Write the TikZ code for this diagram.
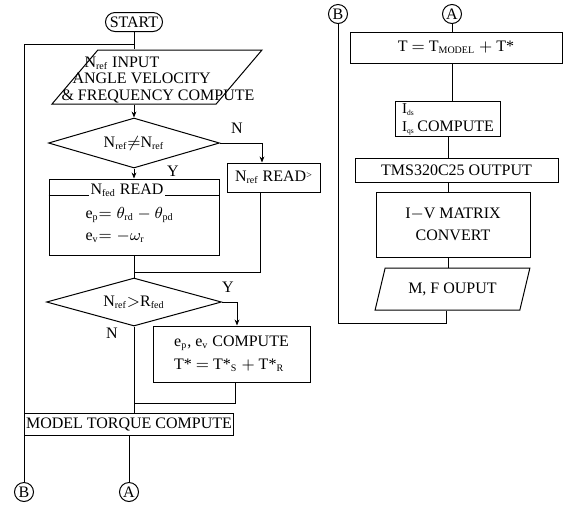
\documentclass[tikz,border=0pt]{standalone}
\usepackage{amsmath,amssymb}
\usepackage{fontspec}
\setmainfont{Liberation Serif}
\usetikzlibrary{arrows.meta,positioning,shapes.geometric,shapes.misc}
\newcommand{\sbs}[1]{$_{\scriptscriptstyle\textrm{#1}}$}

\begin{document}
\begin{tikzpicture}[x=0.5pt,y=-0.5pt,line width=0.5pt,font=\fontsize{8}{8.3}\selectfont,
  box/.style={draw,rectangle,inner sep=1pt},
  decision/.style={draw,diamond,aspect=3,inner sep=0pt},
  io/.style={draw,trapezium,trapezium stretches=true,inner sep=1pt},
  term/.style={draw,rounded rectangle,inner sep=1pt},
  conn/.style={draw,circle,inner sep=0pt,minimum size=9.5pt},
  flow/.style={-{Stealth[length=3pt,width=2.4pt]}}]
\useasboundingbox (0,0) rectangle (568,510);

% Left column: start and input
\node[term,minimum width=30.5pt,minimum height=9.5pt] (start) at (134,22) {START};
\node[io,trapezium left angle=64,trapezium right angle=116,minimum width=105pt,minimum height=27pt] (input) at (157,77) {\phantom{M}};
\node[align=left,inner sep=0pt] (inputtxt) at (158,80) {\hspace*{11.5pt}N\sbs{ref} INPUT\\ \hspace*{5.5pt}ANGLE VELOCITY\\ \& FREQUENCY COMPUTE};
\coordinate (loopjoin) at (134,44);

% First decision and its branches
\node[decision,minimum width=85.5pt,minimum height=25pt] (dec1) at (134,143) {N\sbs{ref}$\neq$N\sbs{ref}};
\node[box,minimum width=85pt,minimum height=38pt] (fedread) at (134,217) {};
\draw (fedread.north west) ++(0,17) -- ++(170,0);
\node[fill=white,inner sep=1pt] (fedhead) at (127,190) {N\sbs{fed} READ};
\node[anchor=west,inner sep=0pt] (eqp) at (85,215) {e\sbs{p}$=\theta_{\scriptscriptstyle\textrm{rd}}-\theta_{\scriptscriptstyle\textrm{pd}}$};
\node[anchor=west,inner sep=0pt] (eqv) at (85,237) {e\sbs{v}$=-\omega_{\scriptscriptstyle\textrm{r}}$};
\node[box,minimum width=46.5pt,minimum height=14.5pt] (refread) at (273.5,177.5) {N\sbs{ref} READ\raisebox{1.5pt}{\tiny >}};
\coordinate (join1) at (134,272);

% Second decision and its branches
\node[decision,minimum width=87.5pt,minimum height=24pt] (dec2) at (134,302) {N\sbs{ref}$>$R\sbs{fed}};
\node[box,minimum width=78.5pt,minimum height=28pt,align=left] (compbox) at (231.5,354) {e\sbs{p}, e\sbs{v} COMPUTE\\[3pt] T* $=$ T*\sbs{S} $+$ T*\sbs{R}};
\coordinate (join2) at (134,403);
\node[box,minimum width=99pt,minimum height=11pt] (model) at (129,424) {MODEL TORQUE COMPUTE};
\node[conn] (connA1) at (129,492) {A};
\node[conn] (connB1) at (24,492) {B};

% Branch labels
\node (lbn1) at (237,128) {N};
\node (lby1) at (173,171) {Y};
\node (lby2) at (228,287) {Y};
\node (lbn2) at (112,333) {N};

% Left column connectors
\draw (start.south) -- (start.south |- input.north);
\draw (connB1.north) |- (loopjoin);
\draw[flow] (start.south |- input.south) -- (dec1.north);
\draw[flow] (dec1.south) -- (fedread.north);
\draw[flow] (dec1.east) -| ([xshift=-5.75pt]refread.north);
\draw ([xshift=-6.75pt]refread.south) |- (join1);
\draw (fedread.south) -- (dec2.north);
\draw[flow] (dec2.east) -| ([xshift=2.75pt]compbox.north);
\draw ([xshift=1.75pt]compbox.south) |- (join2);
\draw (dec2.south) -- (dec2.south |- model.north);
\draw (model.south) -- (connA1.north);

% Right column
\node[conn] (connB2) at (338,14) {B};
\node[conn] (connA2) at (452,14) {A};
\node[box,minimum width=106pt,minimum height=15.5pt] (tbox) at (456,47.5) {T $=$ T\sbs{MODEL} $+$ T*};
\node[box,minimum width=52.5pt,minimum height=14pt] (ibox) at (448,119) {{\fontsize{7.5}{6.5}\selectfont\shortstack[l]{I\sbs{ds}\\I\sbs{qs}}}\,COMPUTE};
\node[box,minimum width=101.5pt,minimum height=12pt] (tmsbox) at (456.5,170) {TMS320C25 OUTPUT};
\node[box,minimum width=77pt,minimum height=32.5pt,align=center] (ivbox) at (453,224.5) {I$-$V MATRIX\\[3pt] CONVERT};
\node[io,trapezium left angle=68,trapezium right angle=112,minimum width=77.5pt,minimum height=21pt] (mfout) at (452.5,289) {M, F OUPUT};
\coordinate (rloop) at (446,323);

% Right column connectors
\draw (connA2.south) -- (connA2.south |- tbox.north);
\draw (connA2.south |- tbox.south) -- (connA2.south |- ibox.north);
\draw (ibox.south) -- (ibox.south |- tmsbox.north);
\draw (ibox.south |- tmsbox.south) -- (ibox.south |- ivbox.north);
\draw (ibox.south |- ivbox.south) -- (ibox.south |- mfout.north);
\draw (rloop |- mfout.south) -- (rloop) -| (connB2.south);
\end{tikzpicture}
\end{document}
